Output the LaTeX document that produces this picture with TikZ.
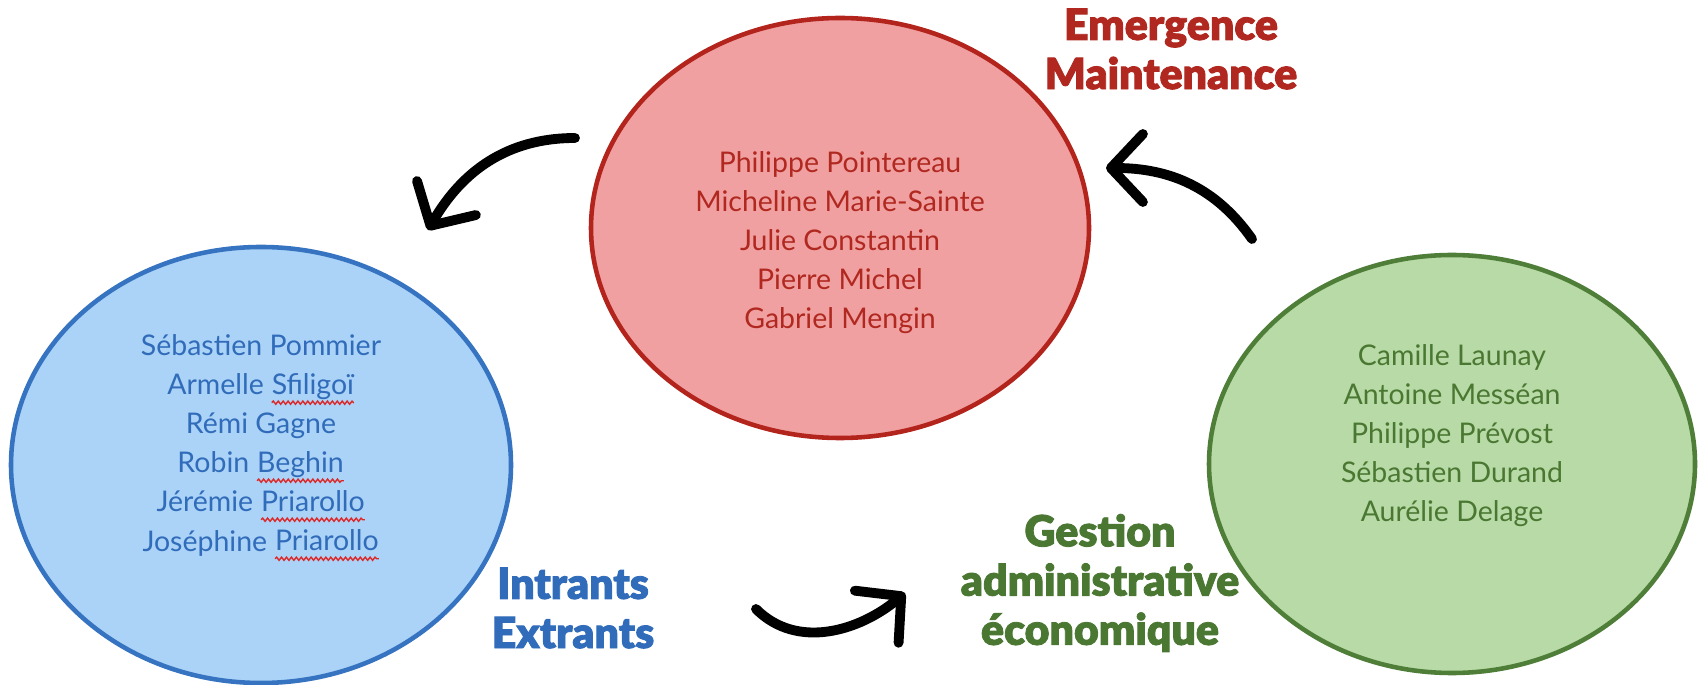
\documentclass[tikz,border=0pt]{standalone}
\usepackage{fontspec}
\setmainfont{Lato}
\newfontfamily\headfont{Lato Black}[FakeBold=2]
\usepackage{tikz}
\usetikzlibrary{shapes.geometric, arrows.meta, decorations.pathmorphing}
\definecolor{bluefill}{RGB}{171, 210, 247}
\definecolor{bluedraw}{RGB}{54, 115, 192}
\definecolor{bluetext}{RGB}{48, 108, 186}
\definecolor{redfill}{RGB}{240, 160, 160}
\definecolor{reddraw}{RGB}{178, 36, 28}
\definecolor{redtext}{RGB}{176, 40, 32}
\definecolor{greenfill}{RGB}{184, 218, 166}
\definecolor{greendraw}{RGB}{78, 126, 56}
\definecolor{greentext}{RGB}{74, 120, 50}
\definecolor{spellred}{RGB}{222, 40, 40}
% wavy spell-check mark under a word
\newcommand\spellmark[1]{\tikz[baseline=(word.base)]{\node[inner sep=0pt, outer sep=0pt] (word) {#1};
	\draw[spellred, line width=0.4pt, decorate, decoration={snake, amplitude=0.45pt, segment length=1.4pt}]
	([yshift=-2.2pt]word.base west) -- ([yshift=-2.2pt]word.base east);}}

\begin{document}
\begin{tikzpicture}[every node/.style={align=center},
	team/.style={ellipse, line width=1.3pt, inner sep=0pt},
	names/.style={font=\fontsize{8.1}{11.1}\selectfont},
	heading/.style={font=\headfont\fontsize{12.2}{14}\selectfont},
	turnarrow/.style={line width=2.8pt, line cap=round, -{Straight Barb[length=3.2mm, width=6.8mm, round]}}]
	
	% Fix the page to the size of the reference
	\useasboundingbox (0, 0) rectangle (17, 6.84);
	
	% --- The three groups ---
	\node[team, draw=bluedraw, fill=bluefill, minimum width=5.0cm, minimum height=4.36cm] (intrants) at (2.61, 2.19) {};
	\node[team, draw=reddraw, fill=redfill, minimum width=4.98cm, minimum height=4.2cm] (emergence) at (8.40, 4.56) {};
	\node[team, draw=greendraw, fill=greenfill, minimum width=4.86cm, minimum height=4.18cm] (gestion) at (14.52, 2.2) {};
	
	% --- Members of each group ---
	\node[names, text=bluetext] (intrantsnames) at ([yshift=0.17cm]intrants.center)
	{Sébastien Pommier\\Armelle \spellmark{Sfiligoï}\\Rémi Gagne\\Robin \spellmark{Beghin}\\Jérémie \spellmark{Priarollo}\\Joséphine \spellmark{Priarollo}};
	\node[names, text=redtext] (emergencenames) at ([yshift=-0.15cm]emergence.center)
	{Philippe Pointereau\\Micheline Marie-Sainte\\Julie Constantin\\Pierre Michel\\Gabriel Mengin};
	\node[names, text=greentext] (gestionnames) at ([yshift=0.28cm]gestion.center)
	{Camille Launay\\Antoine Messéan\\Philippe Prévost\\Sébastien Durand\\Aurélie Delage};
	
	% --- Titles ---
	\node[heading, text=redtext] (emergencetitle) at (11.71, 6.35) {Emergence\\Maintenance};
	\node[heading, text=bluetext] (intrantstitle) at (5.73, 0.76) {Intrants\\Extrants};
	\node[heading, text=greentext] (gestiontitle) at (11.0, 1.01) {Gestion\\administrative\\économique};
	
	% --- Turning arrows ---
	\coordinate (backfrom) at (5.75, 5.46);
	\coordinate (backto) at (4.28, 4.54);
	\coordinate (upfrom) at (12.52, 4.45);
	\coordinate (upto) at (11.06, 5.16);
	\coordinate (feedfrom) at (7.56, 0.75);
	\coordinate (feedto) at (9.05, 0.91);
	\draw[turnarrow] (backfrom) to[out=180, in=60] (backto);
	\draw[turnarrow] (upfrom) to[out=125, in=0] (upto);
	\draw[turnarrow] (feedfrom) to[out=-45, in=220] (feedto);
\end{tikzpicture}
\end{document}
